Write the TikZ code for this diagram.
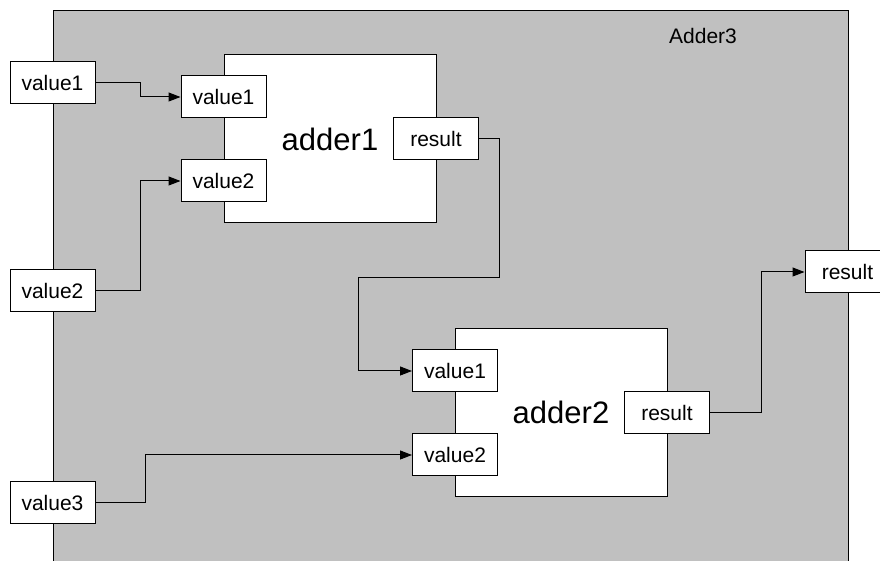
\documentclass[tikz,border=0pt]{standalone}
\usepackage{fontspec}
\setmainfont{Liberation Sans}
\usetikzlibrary{arrows.meta}
\definecolor{boxgray}{RGB}{192,192,192}
\tikzset{
  port/.style={draw, fill=white, minimum width=42.5pt, minimum height=21pt, inner sep=0pt, font=\fontsize{10.5}{12}\selectfont},
  block/.style={draw, fill=white, minimum width=106pt, minimum height=84pt, inner sep=0pt, font=\fontsize{15.5}{18}\selectfont},
  wire/.style={-{Triangle[length=6pt,width=4.5pt]}},
}
\begin{document}
\begin{tikzpicture}[x=0.5pt, y=-0.5pt, line width=0.5pt, line join=miter]
	\clip (0,0) rectangle (880,561);
	% enclosing component
	\fill[boxgray] (53,11) rectangle (848,600);
	\draw (53,600) -- (53,11) -- (848,11) -- (848,600);
	\node[font=\fontsize{10.5}{12}\selectfont] (title) at (703,36) {Adder3};
	% inner components
	\node[block] (adder1) at (330,139) {adder1};
	\node[block] (adder2) at (561,412.5) {adder2};
	\node[port] (a1v1) at (223.5,97) {value1};
	\node[port] (a1v2) at (223.5,181) {value2};
	\node[port] (a1res) at (436,139) {result};
	\node[port] (a2v1) at (455,371) {value1};
	\node[port] (a2v2) at (455,455) {value2};
	\node[port] (a2res) at (667,413) {result};
	% outer ports
	\node[port] (in1) at (52.5,83) {value1};
	\node[port] (in2) at (52.5,291) {value2};
	\node[port] (in3) at (52.5,503) {value3};
	\node[port] (out) at (847.5,272) {result};
	% connections
	\draw[wire] (in1.east) -- ++(45,0) |- (a1v1.west);
	\draw[wire] (in2.east) -- ++(45,0) |- (a1v2.west);
	\draw[wire] (a1res.east) -| ++(20,139) -| ++(-141,93) -- (a2v1.west);
	\draw[wire] (in3.east) -- ++(50,0) |- (a2v2.west);
	\draw[wire] (a2res.east) -- ++(51,0) |- (out.west);
\end{tikzpicture}
\end{document}
